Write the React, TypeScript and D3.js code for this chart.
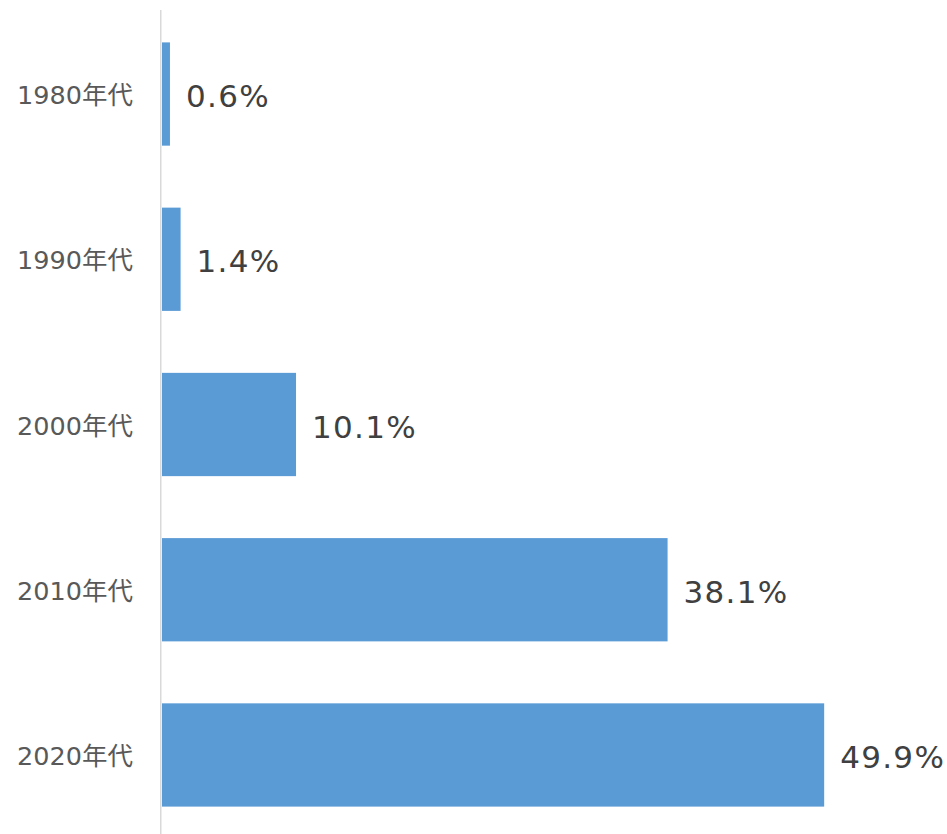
import React from "react";
import * as d3 from "d3";

const categories = ["1980年代", "1990年代", "2000年代", "2010年代", "2020年代"];
const values = [0.6, 1.4, 10.1, 38.1, 49.9];
const valueLabels = ["0.6%", "1.4%", "10.1%", "38.1%", "49.9%"];

const W = 947;
const H = 834;

export default function App() {
  const x = d3.scaleLinear().domain([0, 50]).range([162, 825.5]);
  const y = d3
    .scaleBand<string>()
    .domain(categories)
    .range([11, 838])
    .paddingInner(0.375)
    .paddingOuter(0.19);
  const font = "'DejaVu Sans', 'Noto Sans CJK JP', sans-serif";
  return (
    <svg
      width={W}
      height={H}
      style={{ position: "absolute", left: 0, top: 0, background: "#fff" }}
    >
      {categories.map((c, i) => {
        const yy = y(c)!;
        const bw = y.bandwidth();
        return (
          <g key={c}>
            <rect x={x(0)} y={yy} width={x(values[i]) - x(0)} height={bw} fill="#5b9bd5" />
            <text
              x={133}
              y={yy + bw / 2 + 1}
              textAnchor="end"
              dominantBaseline="central"
              fontFamily={font}
              fontSize={25.5}
              fill="#595959"
            >
              {c}
            </text>
            <text
              x={x(values[i]) + 16}
              y={yy + bw / 2 + 2}
              dominantBaseline="central"
              fontFamily={font}
              fontSize={31}
              letterSpacing={1.3}
              fill="#404040"
            >
              {valueLabels[i]}
            </text>
          </g>
        );
      })}
      <line x1={160.75} x2={160.75} y1={10} y2={834} stroke="#d9d9d9" strokeWidth={1.5} />
    </svg>
  );
}
